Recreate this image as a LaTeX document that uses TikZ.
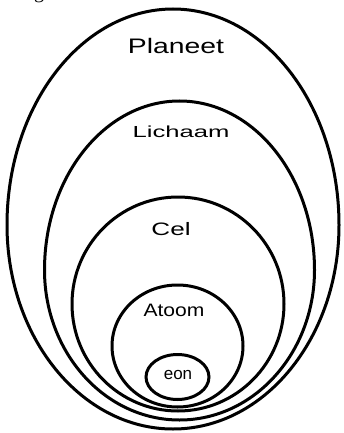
\documentclass[tikz,border=0pt]{standalone}
\usepackage{fontspec}
\setmainfont{Liberation Sans}
\newfontfamily\serifg{Liberation Serif}
\begin{document}
\begin{tikzpicture}[x=1pt,y=-1pt,
  ring/.style={draw=black,line width=3pt},
  lbl/.style={inner sep=0pt,text=black}]
\useasboundingbox (0,0) rectangle (343,433);
\fill[white] (0,0) rectangle (343,433);
% Planeet (egg)
\draw[ring] (7,225) arc[start angle=180,end angle=360,x radius=166,y radius=216]
  arc[start angle=0,end angle=180,x radius=166,y radius=204] -- cycle;
% Lichaam (egg)
\draw[ring] (44.5,270) arc[start angle=180,end angle=360,x radius=135,y radius=169]
  arc[start angle=0,end angle=180,x radius=135,y radius=150] -- cycle;
% Cel
\draw[ring] (178,304) ellipse[x radius=106,y radius=107];
% Atoom
\draw[ring] (177.5,346) ellipse[x radius=65.5,y radius=61];
% eon
\draw[ring] (177.5,377) ellipse[x radius=31.5,y radius=22.5];
% labels
\node[lbl] (planeet) at (176,46) {\fontsize{21}{21}\selectfont\scalebox{1.35}[1]{Planeet}};
\node[lbl] (lichaam) at (181,132) {\fontsize{16}{16}\selectfont\scalebox{1.6}[1]{Lichaam}};
\node[lbl] (cel) at (171,229) {\fontsize{18}{18}\selectfont\scalebox{1.45}[1]{Cel}};
\node[lbl] (atoom) at (174,310) {\fontsize{18}{18}\selectfont\scalebox{1.17}[1]{Atoom}};
\node[lbl] (eon) at (178,375) {\fontsize{17}{17}\selectfont eon};
\node[lbl,anchor=base] (gfrag) at (39,-1.5) {\serifg\fontsize{20}{20}\selectfont g};
\end{tikzpicture}
\end{document}
